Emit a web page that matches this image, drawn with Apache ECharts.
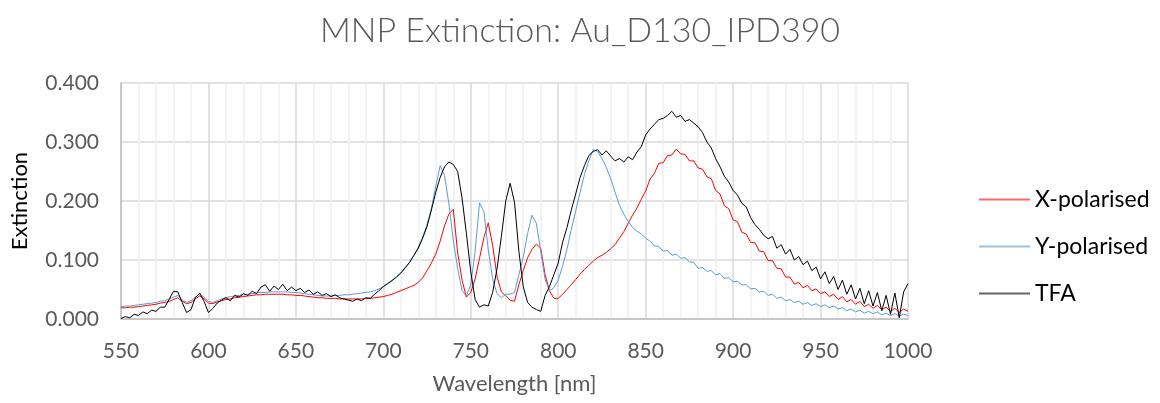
<!DOCTYPE html>
<html>
<head>
<meta charset="utf-8">
<title>MNP Extinction: Au_D130_IPD390</title>
<script src="https://cdn.jsdelivr.net/npm/echarts@6/dist/echarts.min.js"></script>
<style>
  html, body { margin: 0; padding: 0; background: #ffffff; }
  #chart { width: 1160px; height: 403px; }
</style>
</head>
<body>
<div id="chart"></div>
<script>
// Wavelength grid (nm), sampled every 2.5 nm from 550 to 1000
const wavelengths = [];
for (let w = 550; w <= 1000; w += 2.5) wavelengths.push(w);

// Extinction under X polarisation (one row per 50 nm)
const xPolarised = [
  0.019,0.019,0.020,0.020,0.021,0.022,0.023,0.024,0.025,0.027, 0.028,0.030,0.033,0.036,0.030,0.026,0.028,0.034,0.039,0.034,
  0.027,0.026,0.029,0.031,0.033,0.034,0.036,0.037,0.038,0.039, 0.040,0.041,0.041,0.042,0.042,0.042,0.042,0.042,0.041,0.041,
  0.040,0.040,0.039,0.038,0.037,0.036,0.036,0.035,0.035,0.035, 0.034,0.034,0.034,0.034,0.034,0.034,0.035,0.035,0.036,0.037,
  0.038,0.040,0.042,0.045,0.048,0.051,0.054,0.057,0.062,0.070, 0.082,0.095,0.110,0.132,0.158,0.178,0.186,0.112,0.066,0.037,
  0.045,0.068,0.103,0.138,0.163,0.125,0.072,0.046,0.039,0.032, 0.030,0.058,0.082,0.104,0.118,0.127,0.120,0.075,0.048,0.035,
  0.035,0.042,0.050,0.058,0.067,0.076,0.084,0.091,0.098,0.104, 0.108,0.113,0.119,0.126,0.137,0.148,0.162,0.176,0.188,0.203,
  0.217,0.237,0.247,0.264,0.265,0.277,0.278,0.288,0.280,0.279, 0.268,0.268,0.256,0.254,0.241,0.238,0.218,0.212,0.192,0.187,
  0.168,0.165,0.147,0.144,0.130,0.129,0.115,0.114,0.099,0.099, 0.086,0.085,0.071,0.071,0.059,0.062,0.053,0.057,0.048,0.051,
  0.043,0.046,0.038,0.042,0.033,0.038,0.029,0.033,0.025,0.030, 0.021,0.025,0.018,0.023,0.016,0.020,0.013,0.018,0.011,0.017,
  0.013
];

// Extinction under Y polarisation
const yPolarised = [
  0.021,0.022,0.022,0.023,0.024,0.025,0.026,0.027,0.028,0.030, 0.031,0.034,0.037,0.040,0.032,0.028,0.031,0.037,0.042,0.037,
  0.030,0.028,0.031,0.034,0.036,0.038,0.039,0.040,0.041,0.042, 0.043,0.044,0.045,0.045,0.046,0.046,0.046,0.046,0.046,0.045,
  0.045,0.044,0.043,0.042,0.041,0.040,0.039,0.039,0.039,0.040, 0.040,0.041,0.041,0.042,0.043,0.044,0.045,0.046,0.048,0.051,
  0.055,0.060,0.066,0.072,0.078,0.086,0.096,0.108,0.122,0.139, 0.160,0.188,0.225,0.260,0.243,0.195,0.134,0.085,0.048,0.039,
  0.058,0.115,0.197,0.182,0.117,0.068,0.043,0.036,0.042,0.042, 0.045,0.075,0.105,0.145,0.176,0.162,0.115,0.067,0.048,0.053,
  0.066,0.090,0.118,0.152,0.183,0.215,0.245,0.268,0.287,0.284, 0.272,0.257,0.238,0.215,0.193,0.178,0.165,0.155,0.149,0.144,
  0.137,0.132,0.124,0.123,0.115,0.116,0.108,0.110,0.103,0.104, 0.097,0.096,0.086,0.087,0.081,0.082,0.075,0.077,0.069,0.070,
  0.063,0.064,0.058,0.058,0.051,0.052,0.046,0.047,0.040,0.042, 0.035,0.037,0.031,0.033,0.028,0.030,0.025,0.028,0.023,0.026,
  0.021,0.024,0.019,0.022,0.017,0.019,0.014,0.017,0.012,0.015, 0.010,0.013,0.009,0.012,0.007,0.010,0.006,0.009,0.005,0.008,
  0.006
];

// Total field analysis (unpolarised)
const tfa = [
  0.001,0.004,0.002,0.008,0.006,0.012,0.009,0.015,0.013,0.020, 0.020,0.033,0.047,0.046,0.028,0.011,0.016,0.036,0.044,0.030,
  0.011,0.018,0.027,0.032,0.036,0.031,0.040,0.037,0.043,0.040, 0.047,0.043,0.054,0.058,0.047,0.056,0.050,0.059,0.048,0.054,
  0.048,0.052,0.045,0.049,0.042,0.046,0.040,0.043,0.038,0.041, 0.036,0.034,0.032,0.030,0.034,0.031,0.036,0.035,0.042,0.048,
  0.055,0.060,0.065,0.071,0.078,0.087,0.096,0.108,0.120,0.137, 0.157,0.185,0.215,0.240,0.258,0.266,0.262,0.250,0.205,0.145,
  0.080,0.033,0.020,0.024,0.022,0.045,0.085,0.140,0.200,0.230, 0.198,0.115,0.055,0.028,0.020,0.016,0.013,0.040,0.055,0.075,
  0.095,0.130,0.155,0.185,0.212,0.240,0.260,0.277,0.284,0.287, 0.278,0.285,0.276,0.268,0.272,0.266,0.275,0.270,0.283,0.292,
  0.312,0.322,0.330,0.338,0.340,0.345,0.352,0.342,0.345,0.335, 0.338,0.332,0.326,0.316,0.300,0.290,0.272,0.258,0.242,0.232,
  0.218,0.210,0.196,0.190,0.172,0.160,0.152,0.142,0.136,0.140, 0.120,0.126,0.110,0.118,0.100,0.106,0.092,0.098,0.082,0.088,
  0.068,0.080,0.060,0.072,0.050,0.066,0.042,0.058,0.034,0.052, 0.026,0.048,0.022,0.045,0.014,0.040,0.008,0.044,0.002,0.046,
  0.060
];

const seriesNames = ['X-polarised', 'Y-polarised', 'TFA'];
const seriesColors = ['#ff0000', '#5b9bd5', '#000000'];
const seriesValues = [xPolarised, yPolarised, tfa];

const yTicks = [0, 0.1, 0.2, 0.3, 0.4];
const xTicks = [550, 600, 650, 700, 750, 800, 850, 900, 950, 1000];

const FONT = 'Lato';
const GREY_TEXT = '#595959';

const chart = echarts.init(document.getElementById('chart'), null, { renderer: 'canvas' });

chart.setOption({
  animation: false,
  backgroundColor: '#ffffff',
  title: {
    text: 'MNP Extinction: Au_D130_IPD390',
    left: 'center',
    top: 9,
    textStyle: { fontFamily: FONT, fontWeight: 300, fontSize: 34, color: GREY_TEXT }
  },
  legend: {
    orient: 'vertical',
    left: 974,
    top: 183,
    itemWidth: 51,
    itemHeight: 2,
    itemGap: 24,
    icon: 'rect',
    data: seriesNames,
    itemStyle: { opacity: 0.6 },
    textStyle: { fontFamily: FONT, fontSize: 23, color: '#000000', padding: [0, 0, 0, 0] }
  },
  grid: { left: 121, right: 252, top: 83, bottom: 84 },
  xAxis: {
    type: 'value',
    min: xTicks[0],
    max: xTicks[xTicks.length - 1],
    interval: 50,
    name: 'Wavelength [nm]',
    nameLocation: 'middle',
    nameGap: 54,
    nameTextStyle: { fontFamily: FONT, fontSize: 22, color: GREY_TEXT },
    axisLine: { show: true, lineStyle: { color: '#bfbfbf', width: 1.5 } },
    axisTick: { show: false },
    minorTick: { show: false, splitNumber: 5 },
    axisLabel: { margin: 22, fontFamily: FONT, fontSize: 21, color: GREY_TEXT, formatter: v => String(v) },
    splitLine: { show: true, lineStyle: { color: '#d9d9d9', width: 1.5 } },
    minorSplitLine: { show: true, lineStyle: { color: '#efefef', width: 1.5 } }
  },
  yAxis: {
    type: 'value',
    min: yTicks[0],
    max: yTicks[yTicks.length - 1],
    interval: 0.1,
    name: 'Extinction',
    nameLocation: 'middle',
    nameGap: 90,
    nameTextStyle: { fontFamily: FONT, fontSize: 22, color: '#000000' },
    axisLine: { show: true, lineStyle: { color: '#bfbfbf', width: 1.5 } },
    axisTick: { show: false },
    axisLabel: {
      margin: 22,
      fontFamily: FONT,
      fontSize: 21,
      color: GREY_TEXT,
      formatter: v => v.toFixed(3)
    },
    splitLine: { show: true, lineStyle: { color: '#d9d9d9', width: 1.5 } }
  },
  series: seriesNames.map((name, i) => ({
    name,
    type: 'line',
    data: wavelengths.map((w, k) => [w, seriesValues[i][k]]),
    symbol: 'none',
    lineStyle: { color: seriesColors[i], width: 1 },
    itemStyle: { color: seriesColors[i] },
    z: 2 + i
  }))
});
</script>
</body>
</html>
